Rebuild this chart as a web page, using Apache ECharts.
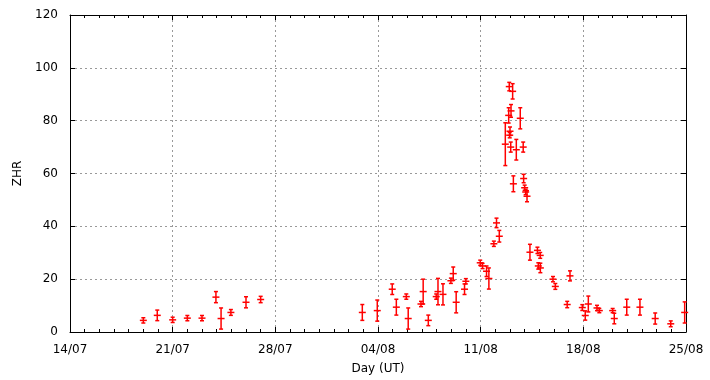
<!DOCTYPE html>
<html>
<head>
<meta charset="utf-8">
<script src="https://cdn.jsdelivr.net/npm/echarts@6/dist/echarts.min.js"></script>
<style>html,body{margin:0;padding:0;background:#fff}#c{width:710px;height:380px}</style>
</head>
<body>
<div id="c"></div>
<script>
// x values: days since 14/07 00:00 UT
const dayLabels = ['14/07','21/07','28/07','04/08','11/08','18/08','25/08'];
const days = [5.0,5.95,7.0,8.0,9.0,9.95,10.3,10.97,12.0,13.0,
  19.93,20.95,21.97,22.25,22.93,23.06,23.93,24.08,24.43,24.97,25.09,25.43,25.97,26.13,26.33,26.9,26.99,
  27.97,28.13,28.4,28.56,28.9,29.08,29.27,29.68,29.91,29.95,30.0,29.98,30.05,30.07,30.18,30.23,30.43,30.7,30.9,30.93,31.0,31.07,31.16,
  31.36,31.87,32.06,31.93,32.07,32.93,33.09,33.9,34.09,34.93,35.13,35.34,35.93,36.09,37.0,37.11,37.96,38.86,39.9,40.96,41.91];
const zhr = [4.4,6.3,4.6,5.25,5.25,13.2,5.1,7.4,11.25,12.3,
  7.4,8.1,16.2,9.4,13.4,5.1,10.6,15.3,4.4,13.4,15.3,14.25,19.4,22.1,11.25,16.2,19.2,
  26.2,25.0,23.0,20.25,33.4,41.3,36.25,71.1,82.0,92.9,76.0,74.5,70.0,83.7,91.1,56.1,69.0,80.9,70.0,58.1,54.6,53.0,51.4,
  30.2,30.9,29.0,25.0,24.25,20.0,17.25,10.4,21.25,9.25,6.25,10.6,9.1,8.1,8.1,5.1,9.4,9.4,5.1,3.1,7.4];
const errs = [1.0,2.0,1.0,1.0,1.0,2.1,4.0,1.1,2.1,1.2,
  3.0,4.0,2.0,3.0,1.0,4.0,1.0,4.7,2.0,1.0,5.0,4.0,1.0,2.5,4.0,2.0,1.0,
  1.0,1.0,2.0,4.0,1.0,1.8,2.2,8.1,2.9,1.6,1.6,1.0,1.9,2.4,2.9,3.0,3.9,4.0,1.9,1.6,1.0,1.0,2.1,
  3.0,1.2,1.1,1.2,1.8,1.0,1.1,1.2,1.9,1.1,1.75,3.0,1.0,0.8,0.8,2.0,3.0,3.0,2.1,1.1,4.0];

const data = days.map((d,i)=>[d, zhr[i], errs[i]]);
const RED = '#ff0000';
const font = 'DejaVu Sans';

const chart = echarts.init(document.getElementById('c'), null, {renderer:'canvas'});
const gridLine = {show:true, lineStyle:{color:'#999', type:[2,3], width:1}};
chart.setOption({
  animation:false,
  backgroundColor:'#fff',
  grid:{left:70, top:15, width:616, height:320, containLabel:false},
  xAxis:[{
    type:'value', min:0, max:42, interval:7,
    axisLine:{show:true, onZero:false, lineStyle:{color:'#000', width:1}},
    axisTick:{show:true, inside:true, length:5, lineStyle:{color:'#000'}},
    minorTick:{show:true, splitNumber:7, length:3, lineStyle:{color:'#000'}},
    axisLabel:{color:'#000', fontFamily:font, fontSize:12, margin:12,
      formatter:v=>dayLabels[Math.round(v/7)]},
    splitLine:gridLine,
    name:'Day (UT)', nameLocation:'middle', nameGap:31,
    nameTextStyle:{color:'#000', fontFamily:font, fontSize:12}
  },{
    type:'value', position:'top', min:0, max:42, interval:7,
    axisLine:{show:true, onZero:false, lineStyle:{color:'#000', width:1}},
    axisTick:{show:true, inside:true, length:5, lineStyle:{color:'#000'}},
    minorTick:{show:true, splitNumber:7, length:3, lineStyle:{color:'#000'}},
    axisLabel:{show:false}, splitLine:{show:false}
  }],
  yAxis:[{
    type:'value', min:0, max:120, interval:20,
    axisLine:{show:true, onZero:false, lineStyle:{color:'#000', width:1}},
    axisTick:{show:true, inside:true, length:5, lineStyle:{color:'#000'}},
    axisLabel:{color:'#000', fontFamily:font, fontSize:12, margin:12, padding:[7,0,0,0]},
    splitLine:gridLine,
    name:'ZHR', nameLocation:'middle', nameGap:46, nameRotate:90,
    nameTextStyle:{color:'#000', fontFamily:font, fontSize:12}
  },{
    type:'value', position:'right', min:0, max:120, interval:20,
    axisLine:{show:true, onZero:false, lineStyle:{color:'#000', width:1}},
    axisTick:{show:true, inside:true, length:5, lineStyle:{color:'#000'}},
    axisLabel:{show:false}, splitLine:{show:false}
  }],
  series:[{
    type:'custom',
    xAxisIndex:0, yAxisIndex:0,
    data:data,
    renderItem:function(params, api){
      const x = api.value(0), y = api.value(1), e = api.value(2);
      const c = api.coord([x,y]);
      const t = api.coord([x,y+e]);
      const b = api.coord([x,y-e]);
      const st = {stroke:RED, lineWidth:1.5};
      return {type:'group', children:[
        {type:'line', shape:{x1:c[0], y1:t[1], x2:c[0], y2:b[1]}, style:st},
        {type:'line', shape:{x1:c[0]-2, y1:t[1], x2:c[0]+2, y2:t[1]}, style:st},
        {type:'line', shape:{x1:c[0]-2, y1:b[1], x2:c[0]+2, y2:b[1]}, style:st},
        {type:'line', shape:{x1:c[0]-3.5, y1:c[1], x2:c[0]+3.5, y2:c[1]}, style:st}
      ]};
    }
  }]
});
</script>
</body>
</html>
